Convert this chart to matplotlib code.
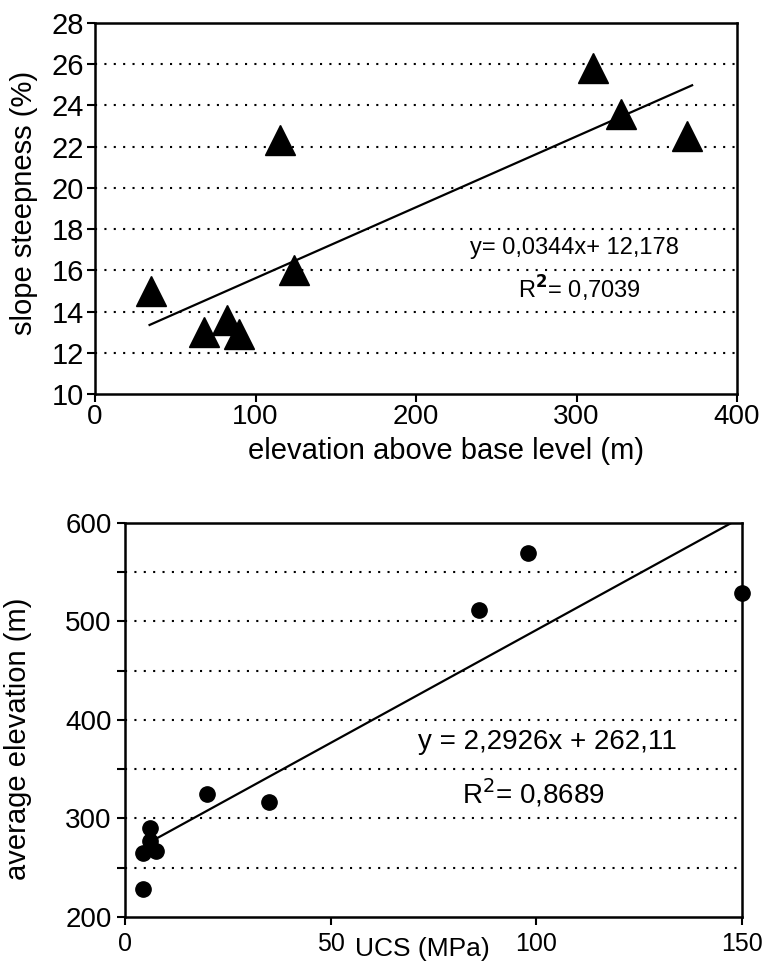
import numpy as np
import matplotlib
matplotlib.use('Agg')
import matplotlib.pyplot as plt
from matplotlib.ticker import MultipleLocator

plt.rcParams['font.family'] = ['Liberation Sans', 'DejaVu Sans']

# top panel: elevation above base level vs slope steepness
elev_base = [35, 68, 82, 90, 115, 124, 310, 328, 369]
slope_pct = [15.0, 13.0, 13.6, 12.9, 22.3, 16.0, 25.8, 23.6, 22.5]
fit1_x = [34, 372]
fit1_slope, fit1_icpt = 0.0344, 12.178
eq1 = 'y= 0,0344x+ 12,178'
r2_1 = 'R$^{\\mathbf{2}}$= 0,7039'

# bottom panel: UCS vs average elevation
ucs = [4.5, 4.5, 7.5, 6.2, 6.2, 20, 35, 86, 98, 150]
avg_elev = [228, 265, 267, 277, 290, 325, 317, 512, 570, 529]
fit2_x = [7.5, 147.3]
fit2_slope, fit2_icpt = 2.2926, 262.11
eq2 = 'y = 2,2926x + 262,11'
r2_2 = 'R$^2$= 0,8689'

fig = plt.figure(figsize=(7.63, 9.63), dpi=100)

# ---- top
ax1 = fig.add_axes([0.1245, 0.5909, 0.8415, 0.3853])
ax1.set_xlim(0, 400)
ax1.set_ylim(10, 28)
ax1.xaxis.set_major_locator(MultipleLocator(100))
ax1.yaxis.set_major_locator(MultipleLocator(2))
for yy in np.arange(12, 28, 2):
    ax1.axhline(yy, color='black', lw=1.5, ls=(0, (1, 3.5)), zorder=1)
fx = np.array(fit1_x)
ax1.plot(fx, fit1_slope * fx + fit1_icpt, color='black', lw=1.6, zorder=2)
ax1.plot(elev_base, slope_pct, ls='none', marker='^', ms=22, color='black', zorder=3)
ax1.text(299, 17.1, eq1, ha='center', va='center', fontsize=17)
ax1.text(302, 15.1, r2_1, ha='center', va='center', fontsize=17)
ax1.set_xlabel('elevation above base level (m)', fontsize=21)
ax1.xaxis.set_label_coords(0.547, -0.117)
ax1.set_ylabel('slope steepness (%)', fontsize=21)
ax1.yaxis.set_label_coords(-0.088, 0.515)
ax1.tick_params(axis='both', direction='out', length=6, width=1.5, labelsize=21)
ax1.tick_params(axis='x', pad=1, labelsize=20)
ax1.tick_params(axis='y', pad=2)
for s in ax1.spines.values():
    s.set_linewidth(1.8)

# ---- bottom
ax2 = fig.add_axes([0.1638, 0.0478, 0.8087, 0.4091])
ax2.set_xlim(0, 150)
ax2.set_ylim(200, 600)
ax2.set_xticks([0, 50, 100, 150])
ax2.yaxis.set_major_locator(MultipleLocator(100))
ax2.yaxis.set_minor_locator(MultipleLocator(50))
for yy in [250, 300, 350, 400, 450, 500, 550]:
    ax2.axhline(yy, color='black', lw=1.5, ls=(0, (1, 3.5)), zorder=1)
fx2 = np.array(fit2_x)
ax2.plot(fx2, fit2_slope * fx2 + fit2_icpt, color='black', lw=1.6, zorder=2)
ax2.plot(ucs, avg_elev, ls='none', marker='o', ms=11, color='black', zorder=3, clip_on=False)
ax2.text(102.7, 378, eq2, ha='center', va='center', fontsize=20)
ax2.text(99.2, 326, r2_2, ha='center', va='center', fontsize=20)
ax2.set_xlabel('UCS (MPa)', fontsize=19)
ax2.xaxis.set_label_coords(0.482, -0.05)
ax2.set_ylabel('average elevation (m)', fontsize=21)
ax2.yaxis.set_label_coords(-0.15, 0.452)
ax2.tick_params(axis='both', which='both', direction='out', length=6, width=1.5, labelsize=20)
ax2.tick_params(axis='x', pad=5, labelsize=18)
for s in ax2.spines.values():
    s.set_linewidth(1.8)

fig.savefig('out.png', dpi=100)
